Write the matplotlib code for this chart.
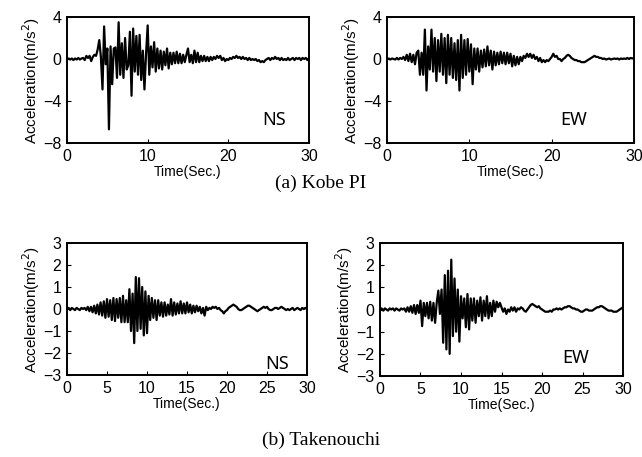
import numpy as np
import matplotlib
matplotlib.use('Agg')
import matplotlib.pyplot as plt

plt.rcParams['font.family'] = ['Liberation Sans', 'DejaVu Sans']

# Sampling interval of the digitised records (s)
dt = 0.2

# Kobe PI, NS component (m/s^2)
kobe_ns = [
    0, 0.05, -0.05, 0.05, -0.1, 0.05, -0.05, 0.1, -0.05, 0.05,
    0.1, -0.1, 0.3, 0.1, 0.3, -0.2, 0.2, 0.4, 0.3, 0.9,
    1.8, 0.2, -2.9, 3.1, -0.5, 1.0, -6.7, 1.2, -2.4, 1.0,
    1.1, -1.8, 3.5, -1.5, 1.5, -1.8, 2.0, -1.0, -0.6, 2.6,
    -3.5, 2.9, -1.2, 2.2, -1.5, 2.3, -2.0, 0.8, -2.9, 0.5,
    3.2, -1.5, 1.2, -0.8, 1.6, -1.2, 1.0, -0.9, 0.8, -1.0,
    0.7, -0.6, 1.0, -0.9, 0.6, -0.5, 0.6, -0.4, 0.7, -0.4,
    0.5, -0.4, 0.4, -0.3, 0.4, 1.0, -0.3, 0.4, -0.4, 0.8,
    -0.3, 0.6, -0.3, 0.3, -0.2, 0.3, -0.2, 0.2, -0.2, 0.2,
    -0.1, 0.2, 0.0, 0.3, 0.1, 0.3, -0.1, 0.1, -0.2, 0.0,
    -0.1, 0.1, 0.0, 0.2, 0.1, 0.3, 0.1, 0.2, 0.0, 0.2,
    0.0, 0.1, -0.1, 0.1, -0.1, 0.0, -0.1, 0.0, -0.2, -0.1,
    -0.3, -0.2, -0.3, -0.1, 0.0, 0.1, -0.1, 0.1, 0.0, 0.2,
    0.0, 0.1, -0.1, 0.1, -0.1, 0.0, -0.1, 0.1, -0.1, 0.0,
    0.1, -0.1, 0.1, 0.0, 0.1, -0.1, 0.1, 0.0, 0.1, -0.1, 0.1,
]

# Kobe PI, EW component
kobe_ew = [
    0, 0.05, -0.05, 0.05, 0, -0.05, 0.1, -0.05, 0.1, 0,
    0.2, -0.1, 0.4, -0.2, 0.5, -0.3, 0.4, -0.5, 0.6, 0.8,
    -1.5, 0.6, -1.5, 2.8, -3.0, 1.2, -1.0, 2.8, -1.2, 2.0,
    -2.1, 1.8, -1.2, 2.4, -1.5, 2.0, -2.3, 2.3, -1.5, 2.0,
    -1.8, 1.5, -2.0, 1.8, -3.0, 2.3, -1.8, 1.8, -1.5, 1.9,
    -1.2, 1.4, -2.4, 1.0, -1.0, 1.0, -1.2, 0.8, -0.8, 0.9,
    -0.7, 1.2, -0.6, 0.8, -1.0, 0.7, -0.6, 0.6, -0.5, 0.7,
    -0.4, 0.6, -0.5, 0.6, -0.4, 0.5, -0.7, 0.3, -0.6, 0.2,
    -0.5, 0.2, -0.2, 0.3, 0.1, 0.5, 0.2, 0.5, 0.1, 0.4,
    0.0, 0.2, -0.2, 0.1, -0.3, -0.1, -0.3, -0.1, -0.2, 0.0,
    0.2, 0.5, 0.2, 0.3, 0.0, 0.0, -0.2, 0.0, 0.1, 0.3,
    0.4, 0.3, 0.1, 0.0, -0.1, -0.1, -0.2, -0.2, -0.3, -0.3,
    -0.3, -0.2, -0.1, 0.0, 0.1, 0.2, 0.3, 0.2, 0.2, 0.1,
    0.1, 0.0, 0.05, -0.05, 0.0, 0.05, -0.05, 0.0, 0.05, 0.0,
    0.05, -0.05, 0.05, 0.0, 0.05, 0.0, 0.1, 0.0, 0.1, 0.05, 0.1,
]

# Takenouchi, NS component
take_ns = [
    0, 0.05, -0.05, 0.05, 0, -0.05, 0.05, 0, -0.05, 0.05,
    0, 0.05, -0.05, 0.1, -0.1, 0.1, -0.15, 0.15, -0.2, 0.2,
    -0.25, 0.3, -0.3, 0.35, -0.4, 0.45, -0.35, 0.4, -0.5, 0.5,
    -0.55, 0.45, -0.4, 0.5, -0.6, 0.6, -0.6, 0.4, -0.6, 0.9,
    -1.0, 0.7, -1.55, 1.45, -1.0, 1.4, -0.9, 1.0, -1.2, 0.8,
    -1.1, 0.6, -0.5, 0.5, -0.4, 0.4, -0.5, 0.4, -0.3, 0.3,
    -0.35, 0.3, -0.3, 0.2, -0.25, 0.45, -0.3, 0.3, -0.25, 0.25,
    -0.2, 0.35, -0.2, 0.25, -0.2, 0.3, -0.15, 0.2, -0.2, 0.15,
    -0.15, 0.15, -0.1, 0.1, -0.2, 0.05, -0.3, 0.1, -0.05, 0.05,
    0.0, 0.1, 0.05, 0.1, 0.0, 0.05, -0.05, -0.1, -0.2, -0.1,
    -0.05, 0.05, 0.1, 0.15, 0.2, 0.15, 0.1, 0.0, -0.05, -0.05,
    0.0, 0.05, 0.1, 0.15, 0.15, 0.1, 0.05, 0.0, -0.05, -0.1,
    -0.05, 0.0, 0.05, 0.1, 0.05, 0.1, 0.0, -0.05, -0.05, 0.0,
    0.05, 0.05, 0.0, 0.05, 0.1, 0.05, 0.0, -0.05, 0.0, -0.05,
    0.0, 0.05, -0.05, 0.0, 0.05, 0.0, -0.05, 0.05, 0.0, 0.05, 0.0,
]

# Takenouchi, EW component
take_ew = [
    0, 0.05, -0.05, 0.05, 0, -0.05, 0.05, 0, 0.05, -0.05,
    0.05, 0, -0.05, 0.05, 0, 0.05, -0.1, 0.1, -0.1, 0.15,
    -0.15, 0.2, -0.2, 0.2, -0.15, 0.4, -0.75, 0.3, -0.3, 0.3,
    -0.4, 0.35, -0.5, 0.3, -0.6, 0.3, 0.85, -0.2, 0.9, -1.5,
    1.55, -1.8, 1.75, -2.0, 2.25, -1.2, 1.4, -1.0, 0.9, -1.45,
    0.6, -0.4, 0.5, -0.8, 0.7, -0.9, 0.5, -0.5, 0.5, -0.6,
    0.4, -0.3, 0.55, -0.5, 0.4, -0.3, 0.6, -0.4, 0.3, -0.3,
    0.4, -0.1, 0.35, 0.1, 0.3, 0.1, -0.1, 0.05, -0.2, 0.0,
    -0.1, 0.1, -0.05, 0.1, -0.1, 0.05, 0.0, 0.1, 0.05, -0.05,
    -0.1, 0.0, 0.1, 0.2, 0.25, 0.2, 0.15, 0.1, 0.15, 0.05,
    0.0, -0.05, -0.1, -0.1, -0.1, -0.05, -0.1, 0.0, 0.0, 0.05,
    0.0, 0.05, 0.0, 0.05, 0.1, 0.1, 0.15, 0.15, 0.1, 0.05,
    0.05, 0.0, 0.0, -0.05, -0.1, -0.1, -0.05, 0.0, 0.0, -0.05,
    -0.05, -0.05, 0.0, 0.05, 0.1, 0.1, 0.15, 0.15, 0.1, 0.05,
    0.0, -0.05, -0.05, -0.05, -0.1, -0.1, -0.1, -0.05, 0.0, 0.05, 0.1,
]

W, H = 642, 457
fig = plt.figure(figsize=(W / 100, H / 100), dpi=100)


def px_axes(l, t, r, b):
    return fig.add_axes([l / W, 1 - b / H, (r - l) / W, (b - t) / H])


panels = [
    (px_axes(67, 17, 309, 143), kobe_ns, 'NS', (-8, 4), [-8, -4, 0, 4], [0, 10, 20, 30], (0.855, 0.185)),
    (px_axes(387, 17, 634, 143), kobe_ew, 'EW', (-8, 4), [-8, -4, 0, 4], [0, 10, 20, 30], (0.757, 0.185)),
    (px_axes(67, 243, 307, 375), take_ns, 'NS', (-3, 3), [-3, -2, -1, 0, 1, 2, 3], [0, 5, 10, 15, 20, 25, 30], (0.875, 0.085)),
    (px_axes(380, 243, 623, 376), take_ew, 'EW', (-3, 3), [-3, -2, -1, 0, 1, 2, 3], [0, 5, 10, 15, 20, 25, 30], (0.807, 0.135)),
]

for ax, acc, comp, ylim, yt, xt, pos in panels:
    t = np.arange(len(acc)) * dt
    ax.plot(t, acc, color='black', lw=1.6)
    ax.set_xlim(0, 30)
    ax.set_ylim(*ylim)
    ax.set_xticks(xt)
    ax.set_yticks(yt)
    ax.tick_params(direction='in', length=3, width=0.8, labelsize=11.5, pad=4)
    for s in ax.spines.values():
        s.set_linewidth(1.4)
    ax.set_xlabel('Time(Sec.)', fontsize=10, labelpad=1)
    ax.set_ylabel('Acceleration(m/s$^2$)', fontsize=11, labelpad=1)
    ax.text(pos[0], pos[1], comp, transform=ax.transAxes, fontsize=13,
            ha='center', va='center', family=['Noto Sans', 'DejaVu Sans'])

fig.text(0.5, 1 - 183 / H, '(a) Kobe PI', ha='center', va='center', fontsize=14,
         family=['Liberation Serif', 'DejaVu Serif'])
fig.text(0.5, 1 - 440 / H, '(b) Takenouchi', ha='center', va='center', fontsize=14,
         family=['Liberation Serif', 'DejaVu Serif'])

fig.savefig('out.png', dpi=100)
